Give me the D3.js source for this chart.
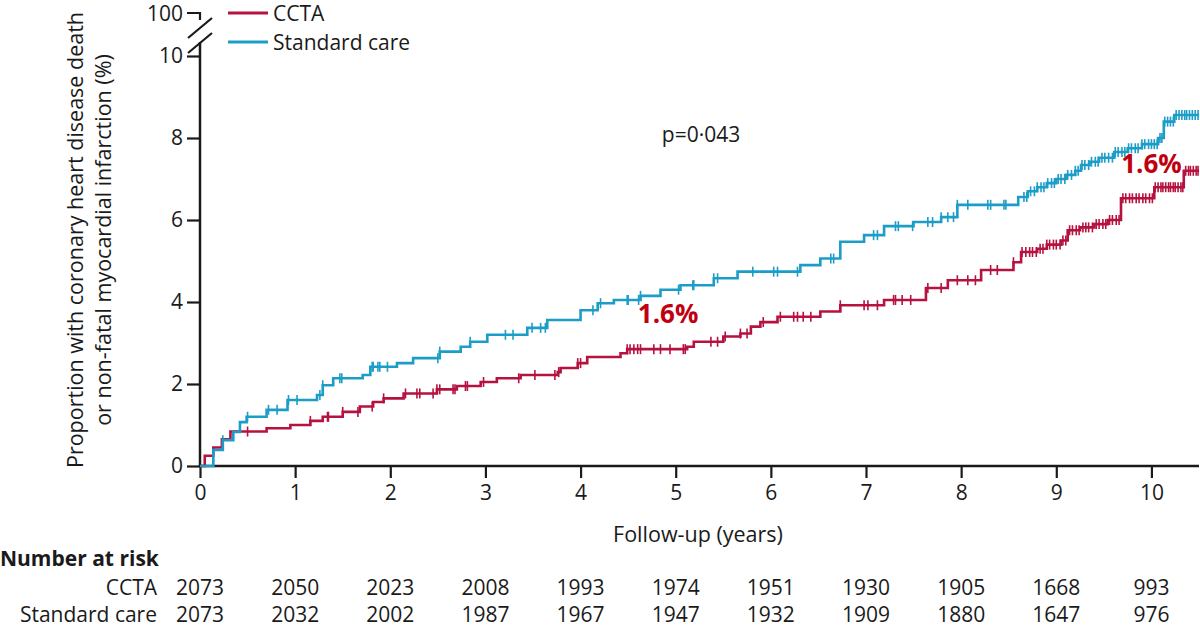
<!DOCTYPE html>
<html lang="en">
<head>
<meta charset="UTF-8">
<title>CCTA vs standard care</title>
<script src="https://d3js.org/d3.v7.min.js"></script>
<style>
  html, body { margin: 0; padding: 0; background: #fff; }
  svg { display: block; font-family: "Open Sans", sans-serif; }
</style>
</head>
<body>
<div id="chart"></div>
<script>
// Kaplan-Meier step points (years, %)
var cctaTimes  = [0, 0.05, 0.14, 0.23, 0.32, 0.70, 0.95, 1.16, 1.29, 1.50, 1.68, 1.82, 1.93, 2.14, 2.49, 2.70, 2.95, 3.12, 3.37, 3.76, 3.79, 3.97, 4.07, 4.42, 4.49, 5.12, 5.19, 5.50, 5.68, 5.79, 5.89, 6.07, 6.52, 6.73, 7.19, 7.63, 7.86, 8.21, 8.55, 8.63, 8.80, 8.90, 9.05, 9.12, 9.25, 9.40, 9.54, 9.68, 10.03, 10.34];
var cctaValues = [0, 0.25, 0.45, 0.65, 0.84, 0.92, 1.0, 1.1, 1.2, 1.32, 1.45, 1.56, 1.65, 1.77, 1.87, 1.95, 2.05, 2.14, 2.22, 2.29, 2.39, 2.51, 2.66, 2.75, 2.85, 2.91, 3.03, 3.16, 3.23, 3.4, 3.51, 3.64, 3.77, 3.92, 4.05, 4.34, 4.53, 4.78, 4.97, 5.22, 5.3, 5.4, 5.5, 5.75, 5.82, 5.9, 6.0, 6.53, 6.8, 7.2];

var stdTimes  = [0, 0.14, 0.24, 0.35, 0.42, 0.49, 0.70, 0.92, 1.23, 1.29, 1.40, 1.71, 1.79, 2.07, 2.24, 2.52, 2.74, 2.84, 3.02, 3.44, 3.65, 4.00, 4.18, 4.35, 4.63, 4.84, 5.05, 5.40, 5.65, 6.31, 6.52, 6.73, 6.98, 7.19, 7.50, 7.79, 7.96, 8.60, 8.70, 8.80, 8.90, 9.00, 9.10, 9.20, 9.26, 9.35, 9.45, 9.61, 9.75, 9.90, 10.07, 10.13, 10.24];
var stdValues = [0, 0.39, 0.63, 0.83, 1.07, 1.2, 1.37, 1.61, 1.73, 1.97, 2.14, 2.22, 2.42, 2.51, 2.63, 2.79, 2.91, 3.03, 3.2, 3.37, 3.56, 3.8, 3.97, 4.05, 4.15, 4.3, 4.41, 4.58, 4.74, 4.9, 5.06, 5.47, 5.63, 5.85, 5.95, 6.07, 6.37, 6.56, 6.7, 6.8, 6.9, 7.0, 7.1, 7.2, 7.34, 7.42, 7.52, 7.66, 7.75, 7.85, 8.0, 8.4, 8.56];

// censoring marks (years)
var cctaCensor = [0.5, 1.16, 1.34, 1.35, 1.5, 1.66, 1.81, 1.93, 2.16, 2.28, 2.31, 2.45, 2.49, 2.52, 2.66, 2.68, 2.79, 2.81, 2.98, 3.35, 3.52, 3.73, 3.77, 3.97, 4.0, 4.49, 4.52, 4.56, 4.6, 4.63, 4.77, 4.84, 4.94, 5.08, 5.1, 5.37, 5.44, 5.52, 5.68, 5.75, 5.92, 6.10, 6.24, 6.28, 6.34, 6.42, 6.73, 6.98, 7.02, 7.12, 7.29, 7.31, 7.38, 7.47, 7.65, 7.79, 7.96, 8.07, 8.15, 8.31, 8.38, 8.55,
  8.64, 8.68, 8.72, 8.75, 8.79, 8.83, 8.86, 8.9, 8.93, 8.97, 9.0, 9.04, 9.07, 9.1, 9.14, 9.17, 9.21, 9.24, 9.28, 9.31, 9.34, 9.38, 9.42, 9.45, 9.49, 9.52, 9.56, 9.59, 9.63, 9.66, 9.7, 9.73, 9.77, 9.8, 9.84, 9.87, 9.91, 9.94, 9.98, 10.01, 10.04, 10.07, 10.1, 10.12, 10.15, 10.18, 10.2, 10.23, 10.25, 10.28, 10.31, 10.33, 10.36, 10.39, 10.41, 10.44, 10.47, 10.49];
var stdCensor = [0.24, 0.5, 0.72, 0.81, 0.93, 1.02, 1.26, 1.29, 1.47, 1.49, 1.81, 1.82, 1.87, 1.89, 1.97, 2.5, 2.52, 2.84, 3.21, 3.29, 3.49, 3.58, 3.63, 4.13, 4.21, 4.49, 4.5, 4.61, 4.63, 5.03, 5.18, 5.19, 5.40, 5.44, 5.81, 6.03, 6.07, 6.28, 6.63, 6.66, 7.08, 7.12, 7.31, 7.34, 7.49, 7.65, 7.70, 7.79, 7.86, 7.92, 7.96, 8.07, 8.28, 8.31, 8.45, 8.47,
  8.66, 8.69, 8.73, 8.77, 8.8, 8.84, 8.87, 8.91, 8.95, 8.98, 9.02, 9.05, 9.09, 9.12, 9.16, 9.2, 9.23, 9.27, 9.3, 9.34, 9.37, 9.41, 9.44, 9.48, 9.51, 9.55, 9.59, 9.62, 9.65, 9.69, 9.72, 9.76, 9.79, 9.83, 9.86, 9.9, 9.93, 9.97, 10.0, 10.03, 10.06, 10.09, 10.11, 10.14, 10.17, 10.2, 10.23, 10.26, 10.29, 10.32, 10.35, 10.37, 10.4, 10.43, 10.46, 10.49];

var xTicks = [0, 1, 2, 3, 4, 5, 6, 7, 8, 9, 10];
var yTicks = [0, 2, 4, 6, 8, 10];
var riskCcta = [2073, 2050, 2023, 2008, 1993, 1974, 1951, 1930, 1905, 1668, 993];
var riskStd  = [2073, 2032, 2002, 1987, 1967, 1947, 1932, 1909, 1880, 1647, 976];
var endTime = 10.5;

var W = 1200, H = 628;
var red = "#b5123f", blue = "#1c9dc8", txt = "#1a1a1a";
var fs = "21px";

var svg = d3.select("#chart").append("svg")
  .attr("width", W).attr("height", H);

var x = d3.scaleLinear().domain([0, endTime]).range([200, 1199]);
var y = d3.scaleLinear().domain([0, 10]).range([466, 56]);

// axes
var xAxis = svg.append("g")
  .attr("transform", "translate(0," + y(0) + ")")
  .call(d3.axisBottom(x).tickValues(xTicks).tickFormat(d3.format("d")).tickSize(12).tickSizeOuter(0).tickPadding(7));
var yAxis = svg.append("g")
  .attr("transform", "translate(" + x(0) + ",0)")
  .call(d3.axisLeft(y).tickValues(yTicks).tickFormat(d3.format("d")).tickSize(13).tickSizeOuter(0).tickPadding(4));

[xAxis, yAxis].forEach(function(a) {
  a.select(".domain").remove();
  a.selectAll("line").attr("stroke", txt).attr("stroke-width", 2.2);
  a.selectAll("text").attr("fill", txt).style("font-size", fs).style("font-family", "Open Sans");
});

// axis lines
svg.append("line").attr("x1", x(0)).attr("x2", x(endTime))
  .attr("y1", y(0)).attr("y2", y(0)).attr("stroke", txt).attr("stroke-width", 2.5);
svg.append("line").attr("x1", x(0)).attr("x2", x(0))
  .attr("y1", y(0)).attr("y2", 42).attr("stroke", txt).attr("stroke-width", 2.5);

// broken top of the y axis (100)
var topY = 13;
svg.append("path")
  .attr("d", "M" + (x(0) - 13) + "," + topY + "H" + x(0) + "V" + (topY + 7))
  .attr("fill", "none").attr("stroke", txt).attr("stroke-width", 2.2);
svg.append("path")
  .attr("d", "M188,38L212,18M188,53L212,33")
  .attr("stroke", txt).attr("stroke-width", 2.2);
svg.append("text").attr("x", x(0) - 17).attr("y", topY + 8)
  .attr("text-anchor", "end").attr("fill", txt).style("font-size", fs).text("100");

// curves
function series(times, values) {
  var pts = times.map(function(t, i) { return [t, values[i]]; });
  pts.push([endTime, values[values.length - 1]]);
  return pts;
}
var line = d3.line().x(function(d) { return x(d[0]); }).y(function(d) { return y(d[1]); })
  .curve(d3.curveStepAfter);

function valueAt(times, values, t) {
  var i = d3.bisectRight(times, t) - 1;
  return values[Math.max(0, i)];
}

function drawCurve(times, values, censor, color) {
  svg.append("path").datum(series(times, values))
    .attr("fill", "none").attr("stroke", color).attr("stroke-width", 2.6)
    .attr("d", line);
  svg.append("g").selectAll("line").data(censor).join("line")
    .attr("x1", function(d) { return x(d); }).attr("x2", function(d) { return x(d); })
    .attr("y1", function(d) { return y(valueAt(times, values, d)) - 5; })
    .attr("y2", function(d) { return y(valueAt(times, values, d)) + 5; })
    .attr("stroke", color).attr("stroke-width", 1.6);
}
drawCurve(cctaTimes, cctaValues, cctaCensor, red);
drawCurve(stdTimes, stdValues, stdCensor, blue);

// legend
var legend = [{ name: "CCTA", color: red, y: 13 }, { name: "Standard care", color: blue, y: 42 }];
legend.forEach(function(l) {
  svg.append("line").attr("x1", 228).attr("x2", 268).attr("y1", l.y).attr("y2", l.y)
    .attr("stroke", l.color).attr("stroke-width", 3);
  svg.append("text").attr("x", 273).attr("y", l.y + 8).attr("fill", txt)
    .style("font-size", fs).text(l.name);
});

// annotations
svg.append("text").attr("x", 701).attr("y", 142).attr("text-anchor", "middle")
  .attr("fill", txt).style("font-size", fs).text("p=0\u00b7043");
var hrLabels = [{ t: 4.92, v: 3.48 }, { t: 10.0, v: 7.15 }];
hrLabels.forEach(function(h) {
  svg.append("text").attr("x", x(h.t)).attr("y", y(h.v)).attr("text-anchor", "middle")
    .attr("fill", "#c00010").style("font-size", "26px").style("font-weight", "bold").text("1.6%");
});

// axis titles
svg.append("text").attr("transform", "translate(83,240) rotate(-90)").attr("text-anchor", "middle")
  .attr("fill", txt).style("font-size", "21.5px").text("Proportion with coronary heart disease death");
svg.append("text").attr("transform", "translate(111,240) rotate(-90)").attr("text-anchor", "middle")
  .attr("fill", txt).style("font-size", "21.5px").text("or non-fatal myocardial infarction (%)");
svg.append("text").attr("x", 698).attr("y", 542).attr("text-anchor", "middle")
  .attr("fill", txt).style("font-size", "21.5px").text("Follow-up (years)");

// number at risk
svg.append("text").attr("x", 0).attr("y", 566).attr("fill", txt)
  .style("font-size", fs).style("font-weight", "bold").text("Number at risk");
var rows = [{ label: "CCTA", vals: riskCcta, y: 595 }, { label: "Standard care", vals: riskStd, y: 622 }];
rows.forEach(function(r) {
  svg.append("text").attr("x", 157).attr("y", r.y).attr("text-anchor", "end")
    .attr("fill", txt).style("font-size", fs).text(r.label);
  svg.append("g").selectAll("text").data(r.vals).join("text")
    .attr("x", function(d, i) { return x(xTicks[i]); }).attr("y", r.y)
    .attr("text-anchor", "middle").attr("fill", txt).style("font-size", fs)
    .text(function(d) { return d; });
});
</script>
</body>
</html>
